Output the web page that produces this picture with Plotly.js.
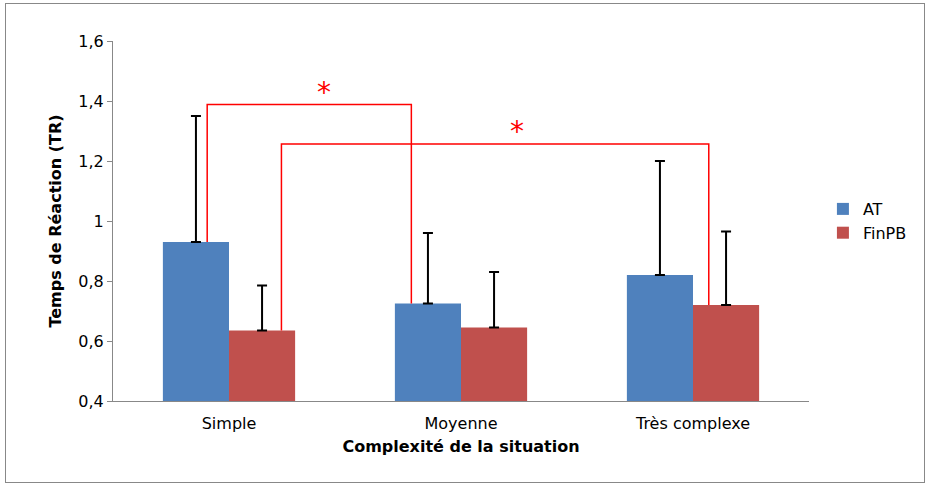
<html>
<head>
<script src="https://cdn.plot.ly/plotly-3.0.1.min.js"></script>
<style>
body { margin: 0; background: #fff; }
#chart { position: absolute; left: 5px; top: 3px; width: 918px; height: 478px; border: 1px solid #888; }
</style>
</head>
<body>
<div id="chart"></div>
<script>
var categories = ["Simple", "Moyenne", "Très complexe"];
var atValues = [0.93, 0.725, 0.82];
var atErrors = [0.42, 0.235, 0.38];
var finValues = [0.635, 0.645, 0.72];
var finErrors = [0.15, 0.185, 0.245];
var yTickVals = [0.4, 0.6, 0.8, 1.0, 1.2, 1.4, 1.6];
var yTickText = ["0,4", "0,6", "0,8", "1", "1,2", "1,4", "1,6"];

// significance brackets: [x start, x end, y start, y end, top]
var brackets = [
  [-0.094, 0.786, 0.93, 0.725, 1.388],
  [0.226, 2.068, 0.635, 0.72, 1.257]
];
var starPos = [[0.41, 1.43], [1.24, 1.30]];

var at = {
  x: [0, 1, 2], y: atValues, type: "bar", name: "AT",
  marker: { color: "#4f81bd" },
  error_y: { type: "data", array: atErrors, symmetric: false, arrayminus: [0, 0, 0], color: "#000", thickness: 2, width: 5 }
};
var fin = {
  x: [0, 1, 2], y: finValues, type: "bar", name: "FinPB",
  marker: { color: "#c0504d" },
  error_y: { type: "data", array: finErrors, symmetric: false, arrayminus: [0, 0, 0], color: "#000", thickness: 2, width: 5 }
};

var shapes = brackets.map(function (b) {
  return {
    type: "path", xref: "x", yref: "y",
    path: "M " + b[0] + "," + b[2] + " L " + b[0] + "," + b[4] + " L " + b[1] + "," + b[4] + " L " + b[1] + "," + b[3],
    line: { color: "#ff0000", width: 1.5 }
  };
});
var annotations = starPos.map(function (s) {
  return { x: s[0], y: s[1], xref: "x", yref: "y", text: "*", showarrow: false,
    font: { color: "#ff0000", size: 28, family: "DejaVu Sans" } };
});

var layout = {
  width: 918, height: 478,
  margin: { l: 107, r: 108, t: 37, b: 81 },
  paper_bgcolor: "#fff", plot_bgcolor: "#fff",
  font: { family: "DejaVu Sans", size: 15, color: "#000" },
  barmode: "group", bargap: 0.43, bargroupgap: 0,
  showlegend: true,
  legend: { x: 1.02, y: 0.5, yanchor: "middle", font: { size: 16 }, tracegroupgap: 20 },
  xaxis: {
    tickmode: "array", tickvals: [0, 1, 2], ticktext: categories,
    range: [-0.5, 2.5], showline: true, linecolor: "#888", ticks: "outside", ticklen: 8, tickcolor: "rgba(0,0,0,0)",
    showgrid: false, zeroline: false, tickfont: { size: 16 },
    title: { text: "<b>Complexité de la situation</b>", font: { size: 16 }, standoff: 8 }
  },
  yaxis: {
    range: [0.4, 1.6], tickmode: "array", tickvals: yTickVals, ticktext: yTickText,
    showline: true, linecolor: "#888", ticks: "outside", tickcolor: "#888", ticklen: 5,
    showgrid: false, zeroline: false, tickfont: { size: 16 },
    title: { text: "<b>Temps de Réaction (TR)</b>", font: { size: 16 }, standoff: 12 }
  },
  shapes: shapes, annotations: annotations
};
Plotly.newPlot("chart", [at, fin], layout, { displayModeBar: false });
</script>
</body>
</html>
